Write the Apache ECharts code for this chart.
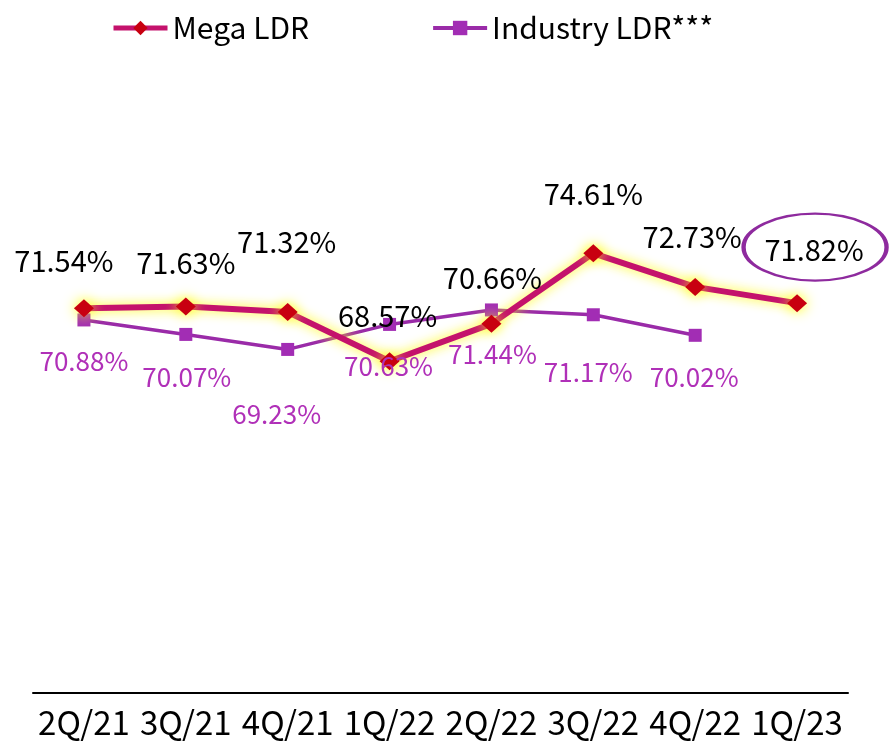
<!DOCTYPE html>
<html>
<head>
<meta charset="utf-8">
<script src="https://cdn.jsdelivr.net/npm/echarts@6/dist/echarts.min.js"></script>
<style>
  html, body { margin: 0; padding: 0; background: #fff; }
  #main { width: 889px; height: 746px; }
</style>
</head>
<body>
<div id="main"></div>
<script>
// data
var quarters = ['2Q/21', '3Q/21', '4Q/21', '1Q/22', '2Q/22', '3Q/22', '4Q/22', '1Q/23'];
var megaLdr = [71.54, 71.63, 71.32, 68.57, 70.66, 74.61, 72.73, 71.82];
var industryLdr = [70.88, 70.07, 69.23, 70.63, 71.44, 71.17, 70.02, null];

// label nudges (px from the point centre)
var megaLabelShift = [[-20, -47], [0, -44], [-1, -70], [-2, -45], [1, -46], [0, -59], [-3, -50], [17, -53]];
var indLabelShift = [[0, 41], [1, 43], [-11, 65], [-1, 42], [1, 44], [-5, 57], [-1, 42], [0, 0]];

var chart = echarts.init(document.getElementById('main'));

function withLabels(vals, shifts) {
  return vals.map(function (v, i) {
    return { value: v, label: { offset: shifts[i] } };
  });
}

var option = {
  animation: false,
  textStyle: { fontFamily: 'Noto Sans CJK TC' },
  legend: {
    left: 106,
    top: 8,
    itemWidth: 54,
    itemHeight: 18,
    itemGap: 122,
    textStyle: { fontSize: 30, color: '#000', fontFamily: 'Noto Sans CJK TC' },
    data: [
      { name: 'Mega LDR', lineStyle: { width: 5 } },
      { name: 'Industry LDR***', lineStyle: { width: 4 } }
    ]
  },
  grid: { left: 33, right: 41, top: 157, bottom: 53 },
  xAxis: {
    type: 'category',
    data: quarters,
    axisLine: { lineStyle: { color: '#000', width: 2 } },
    axisTick: { show: false },
    axisLabel: {
      interval: 0,
      margin: 13,
      fontSize: 33,
      color: '#000',
      fontFamily: 'Noto Sans CJK TC'
    }
  },
  yAxis: {
    type: 'value',
    min: 50,
    max: 80,
    show: false,
    splitLine: { show: false }
  },
  series: [
    {
      name: 'Industry LDR***',
      type: 'line',
      data: withLabels(industryLdr, indLabelShift),
      symbol: 'rect',
      symbolSize: 13,
      itemStyle: { color: '#A22DB4' },
      lineStyle: { color: '#9A2BA8', width: 3.5 },
      label: {
        show: true,
        position: 'inside',
        fontSize: 26,
        color: '#B030B8',
        formatter: function (p) { return p.value.toFixed(2) + '%'; }
      }
    },
    {
      name: 'Mega LDR',
      type: 'line',
      data: withLabels(megaLdr, megaLabelShift),
      symbol: 'diamond',
      symbolSize: [20, 18],
      itemStyle: {
        color: '#C80010',
        shadowColor: 'rgba(255, 255, 0, 1)',
        shadowBlur: 14
      },
      lineStyle: {
        color: '#C4126C',
        width: 6,
        shadowColor: 'rgba(255, 250, 0, 0.95)',
        shadowBlur: 12
      },
      label: {
        show: true,
        position: 'inside',
        fontSize: 29,
        color: '#000',
        formatter: function (p) { return p.value.toFixed(2) + '%'; }
      },
      markPoint: {
        silent: true,
        symbol: 'circle',
        symbolSize: [143, 67],
        symbolOffset: [18, -56],
        itemStyle: { color: 'rgba(0,0,0,0)', borderColor: '#8E2A9E', borderWidth: 3 },
        label: { show: false },
        data: [{ coord: [quarters[7], megaLdr[7]] }]
      }
    }
  ]
};

chart.setOption(option);
</script>
</body>
</html>
